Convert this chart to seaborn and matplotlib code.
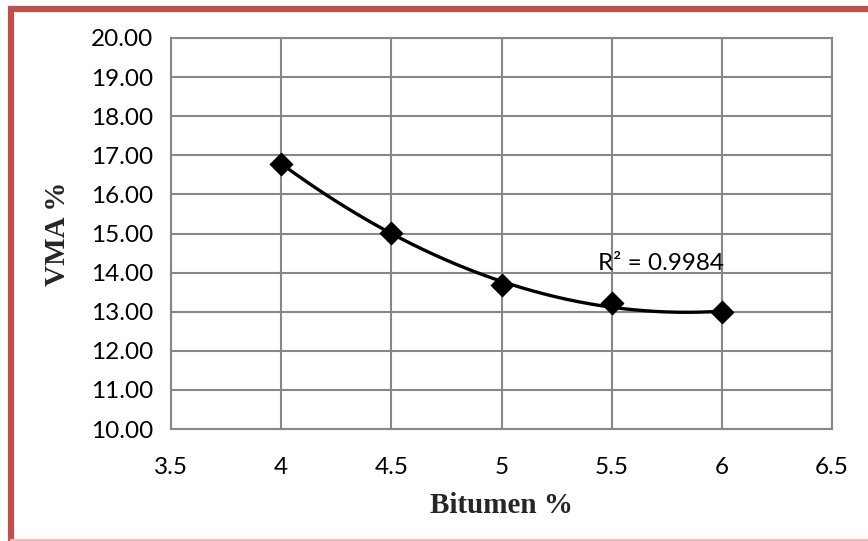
import numpy as np
import pandas as pd
import matplotlib
matplotlib.use("Agg")
import matplotlib.pyplot as plt
import seaborn as sns
from matplotlib.lines import Line2D

# data
bitumen = [4.0, 4.5, 5.0, 5.5, 6.0]
vma = [16.79, 15.02, 13.69, 13.21, 12.98]
x_ticks = [3.5, 4, 4.5, 5, 5.5, 6, 6.5]
y_ticks = [10, 11, 12, 13, 14, 15, 16, 17, 18, 19, 20]
r2_text = "R² = 0.9984"

df = pd.DataFrame({"Bitumen": bitumen, "VMA": vma})

sns.set_style("white")
plt.rcParams['font.family'] = ['Lato', 'DejaVu Sans']

fig = plt.figure(figsize=(8.68, 5.41), dpi=100)
ax = fig.add_axes([171 / 868, 1 - 429 / 541, (832 - 171) / 868, (429 - 38) / 541])

grid_c = "#878787"

# 2nd order polynomial trendline (as in Excel)
coef = np.polyfit(df["Bitumen"], df["VMA"], 2)
xs = np.linspace(df["Bitumen"].min(), df["Bitumen"].max(), 200)
trend = pd.DataFrame({"Bitumen": xs, "VMA": np.polyval(coef, xs)})
sns.lineplot(data=trend, x="Bitumen", y="VMA", ax=ax, color="black", linewidth=2.4, zorder=3)
sns.scatterplot(data=df, x="Bitumen", y="VMA", ax=ax, marker="D", s=130,
                color="black", edgecolor="black", zorder=4)

ax.set_xlim(3.5, 6.5)
ax.set_ylim(10, 20)
ax.set_xticks(x_ticks)
ax.set_xticklabels([f"{t:g}" for t in x_ticks])
ax.set_yticks(y_ticks)
ax.set_yticklabels([f"{t:.2f}" for t in y_ticks])
ax.grid(True, color=grid_c, linewidth=1.5)
ax.set_axisbelow(True)
for s in ax.spines.values():
    s.set_color(grid_c)
    s.set_linewidth(1.5)
ax.tick_params(axis="both", direction="out", length=7, width=1.5, color=grid_c,
               labelsize=17.5, labelcolor="black")
ax.tick_params(axis="x", pad=13)
ax.tick_params(axis="y", pad=6)

ax.set_xlabel("Bitumen %", family="Liberation Serif", fontweight="bold", fontsize=21, labelpad=10)
ax.set_ylabel("VMA %", family="Liberation Serif", fontweight="bold", fontsize=21, labelpad=14)

ax.text(5.44, 14.24, r2_text, fontsize=17.5, va="center", ha="left", color="black")

# red chart border (right and bottom are cut off in the original)
red = "#C0504D"
fig.add_artist(Line2D([10.5 / 868, 10.5 / 868], [0, 1 - 8.5 / 541], color=red, linewidth=4.5,
                      transform=fig.transFigure, solid_capstyle="projecting"))
fig.add_artist(Line2D([10.5 / 868, 1], [1 - 8.5 / 541, 1 - 8.5 / 541], color=red, linewidth=4.5,
                      transform=fig.transFigure))
fig.add_artist(Line2D([10.5 / 868, 1], [1.2 / 541, 1.2 / 541], color="#F2B8B6", linewidth=1.5,
                      transform=fig.transFigure))

fig.savefig("out.png", dpi=100)
